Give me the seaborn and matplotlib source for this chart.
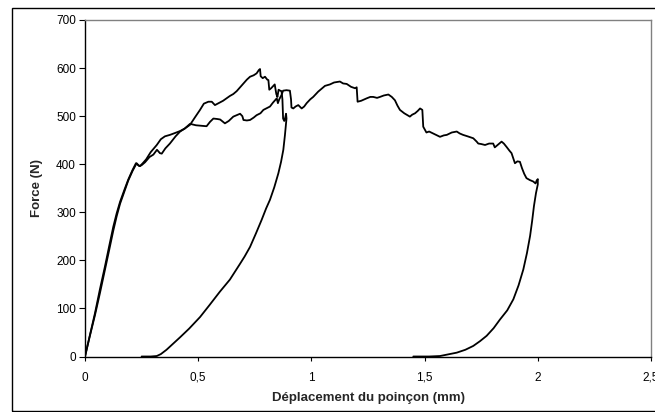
import numpy as np
import pandas as pd
import seaborn as sns
import matplotlib.pyplot as plt
from matplotlib.patches import Rectangle

# essai 1 : charge jusqu'a ~0.89 mm puis decharge
disp_1 = [0, 0.022, 0.044, 0.066, 0.088, 0.107, 0.125, 0.14, 0.155, 0.175, 0.191, 0.21, 0.225, 0.235,
          0.243, 0.255, 0.27, 0.29, 0.317, 0.335, 0.353, 0.375, 0.398, 0.42, 0.44, 0.464, 0.485, 0.508,
          0.525, 0.545, 0.56, 0.574, 0.59, 0.61, 0.625, 0.64, 0.655, 0.67, 0.685, 0.70, 0.715, 0.729,
          0.745, 0.758, 0.768, 0.773, 0.776, 0.785, 0.795, 0.805, 0.81, 0.814, 0.822, 0.83, 0.838,
          0.845, 0.85, 0.855, 0.862, 0.868, 0.872, 0.875, 0.88, 0.885, 0.888,
          0.89, 0.883, 0.876, 0.866, 0.854, 0.836, 0.817, 0.80, 0.78, 0.755, 0.729, 0.705, 0.685,
          0.64, 0.596, 0.55, 0.508, 0.46, 0.42, 0.39, 0.36, 0.335, 0.317, 0.29, 0.25]
force_1 = [0, 45, 90, 140, 187, 230, 270, 298, 322, 348, 368, 388, 402, 398,
           396, 402, 410, 425, 440, 452, 458, 461, 465, 469, 474, 482, 497, 513,
           526, 530, 530, 523, 527, 532, 537, 542, 546, 552, 560, 568, 576, 582,
           585, 589, 596, 598, 583, 579, 582, 576, 575, 555, 558, 562, 566,
           546, 540, 555, 553, 552, 535, 495, 490, 498, 505,
           495, 460, 430, 405, 381, 352, 326, 308, 284, 256, 228, 208, 193,
           160, 135, 107, 82, 58, 40, 27, 14, 5, 1, 0, 0]

# essai 2 : charge jusqu'a 2 mm puis decharge
disp_2 = [0, 0.02, 0.044, 0.066, 0.088, 0.107, 0.125, 0.14, 0.155, 0.175, 0.191, 0.21, 0.228, 0.24,
          0.25, 0.265, 0.285, 0.302, 0.318, 0.331, 0.339, 0.355, 0.375, 0.40, 0.42, 0.44, 0.464,
          0.49, 0.515, 0.537, 0.552, 0.567, 0.585, 0.597, 0.618, 0.635, 0.655, 0.67, 0.685, 0.695,
          0.70, 0.715, 0.729, 0.745, 0.758, 0.775, 0.788, 0.805, 0.817, 0.83, 0.847, 0.852, 0.858,
          0.868, 0.875, 0.89, 0.905, 0.91, 0.912, 0.92, 0.93, 0.942, 0.957, 0.968, 0.979, 0.995,
          1.008, 1.03, 1.045, 1.06, 1.082, 1.1, 1.126, 1.14, 1.156, 1.175, 1.193, 1.2, 1.204, 1.22,
          1.244, 1.26, 1.273, 1.29, 1.303, 1.32, 1.34, 1.355, 1.369, 1.38, 1.391, 1.41, 1.435,
          1.445, 1.458, 1.47, 1.48, 1.49, 1.494, 1.508, 1.52, 1.537, 1.555, 1.568, 1.585, 1.598,
          1.62, 1.642, 1.655, 1.67, 1.69, 1.715, 1.73, 1.737, 1.75, 1.767, 1.785, 1.803, 1.81,
          1.825, 1.84, 1.85, 1.862, 1.875, 1.884, 1.893, 1.899, 1.91, 1.921, 1.93, 1.94, 1.95,
          1.965, 1.98, 1.99, 1.995, 2.0, 2.0,
          1.992, 1.983, 1.975, 1.966, 1.952, 1.936, 1.915, 1.892, 1.865, 1.833, 1.805, 1.774,
          1.745, 1.715, 1.68, 1.642, 1.6, 1.568, 1.52, 1.45]
force_2 = [0, 40, 86, 132, 180, 222, 262, 292, 318, 345, 366, 386, 402, 396,
           398, 404, 415, 420, 430, 423, 422, 433, 443, 458, 468, 474, 484,
           481, 480, 479, 488, 495, 494, 493, 485, 490, 499, 502, 505, 500,
           492, 491, 492, 497, 502, 506, 513, 517, 520, 528, 537, 527, 535,
           544, 553, 554, 553, 535, 518, 516, 520, 523, 516, 520, 527, 535,
           540, 551, 557, 563, 566, 570, 572, 568, 567, 561, 558, 560, 530, 532,
           537, 540, 540, 538, 540, 543, 545, 540, 533, 522, 513, 506, 499,
           503, 506, 511, 516, 513, 478, 466, 468, 464, 460, 457, 460, 461,
           466, 468, 464, 461, 458, 454, 447, 443, 442, 440, 443, 443, 435,
           441, 447, 443, 436, 428, 423, 410, 402, 406, 405, 392, 380, 371,
           367, 364, 360, 366, 369, 358,
           340, 313, 282, 251, 215, 181, 148, 119, 96, 77, 59, 43,
           32, 22, 14, 8, 4, 1, 0, 0]

x_ticks = [0, 0.5, 1, 1.5, 2, 2.5]
x_tick_labels = ["0", "0,5", "1", "1,5", "2", "2,5"]
y_ticks = [0, 100, 200, 300, 400, 500, 600, 700]

sns.set_style("white")
plt.rcParams['font.family'] = ['Liberation Sans', 'DejaVu Sans']

fig = plt.figure(figsize=(6.55, 4.12), dpi=100)
ax = fig.add_axes([85 / 655, 1 - 356.5 / 412, 566 / 655, 336.5 / 412])

df1 = pd.DataFrame({"x": disp_1, "y": force_1})
df2 = pd.DataFrame({"x": disp_2, "y": force_2})
sns.lineplot(data=df1, x="x", y="y", sort=False, estimator=None, color="black", lw=1.3, ax=ax)
sns.lineplot(data=df2, x="x", y="y", sort=False, estimator=None, color="black", lw=1.3, ax=ax)

ax.set_xlim(0, 2.5)
ax.set_ylim(0, 700)
ax.set_xticks(x_ticks)
ax.set_xticklabels(x_tick_labels)
ax.set_yticks(y_ticks)
ax.tick_params(axis="x", direction="out", length=3, width=0.8, pad=8, labelsize=8.5, colors="black")
ax.tick_params(axis="y", direction="out", length=4, width=0.8, pad=2.5, labelsize=8.5, colors="black")
ax.xaxis.set_ticks_position("bottom")
ax.yaxis.set_ticks_position("left")

for side in ["left", "bottom"]:
    ax.spines[side].set_color("black")
    ax.spines[side].set_linewidth(1.0)
for side in ["top", "right"]:
    ax.spines[side].set_color("#808080")
    ax.spines[side].set_linewidth(1.0)

ax.set_xlabel("Déplacement du poinçon (mm)", fontsize=9.5, fontweight="bold")
ax.set_ylabel("Force (N)", fontsize=9.5, fontweight="bold")
ax.xaxis.set_label_coords(0.5, -(398 - 356.5) / 336.5)
ax.xaxis.label.set_va("center")
ax.yaxis.set_label_coords((37 - 85) / 566, 0.5)
ax.yaxis.label.set_va("center")

# cadre exterieur du graphique
fig.patches.append(Rectangle((11.5 / 655, 1 - 410.5 / 412), 1.0, (410.5 - 7.5) / 412,
                             transform=fig.transFigure, fill=False, edgecolor="black",
                             lw=1.0, clip_on=False))

fig.savefig("out.png", dpi=100)
